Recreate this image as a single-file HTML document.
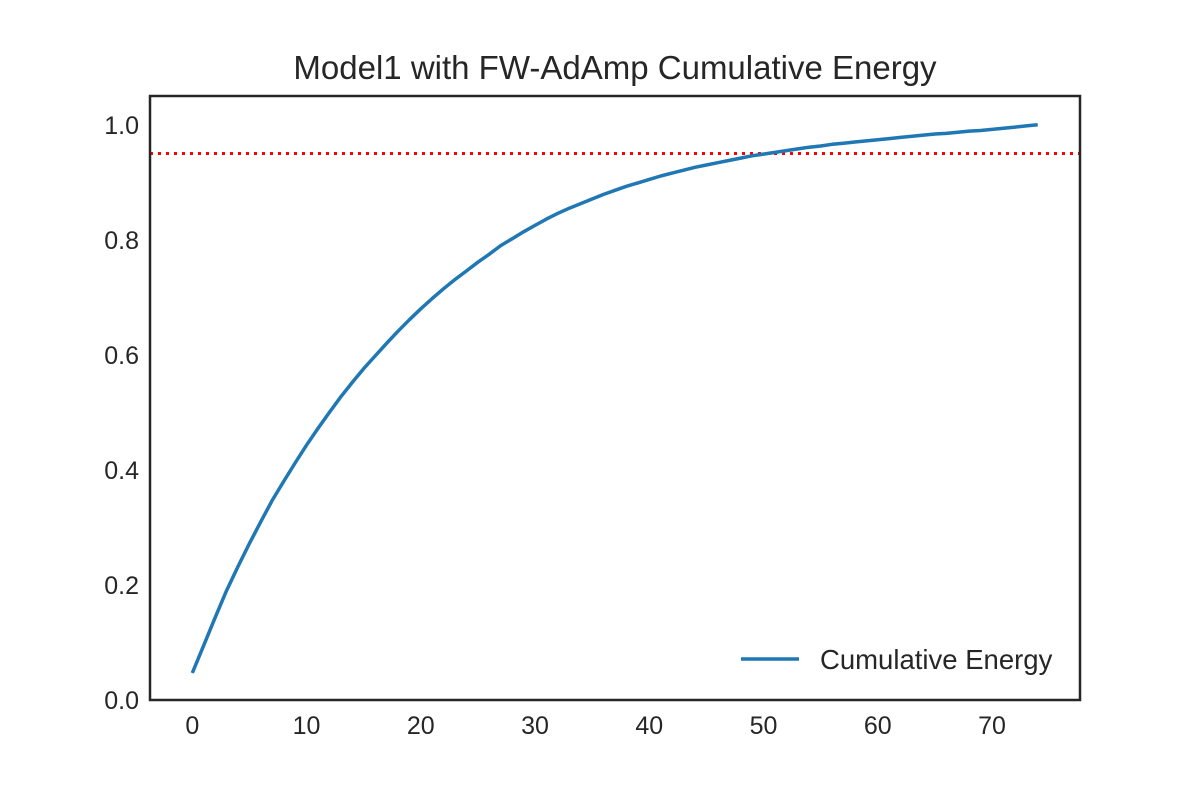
<!DOCTYPE html>
<html><head><meta charset="utf-8"><style>
body{margin:0;background:#fff;}
svg{display:block;font-family:"Liberation Sans","DejaVu Sans",sans-serif;}
</style></head><body>
<svg id="chart" width="1200" height="800">
<rect width="1200" height="800" fill="#fff"/>
<text x="615" y="79" font-size="33" text-anchor="middle" fill="#262626">Model1 with FW-AdAmp Cumulative Energy</text>
<g id="ticks"></g>
<line id="thresh" stroke="red" stroke-width="3" stroke-dasharray="3,5"/>
<path id="curve" fill="none" stroke="#1f77b4" stroke-width="3.5" stroke-linejoin="round"/>
<rect x="150" y="96" width="930" height="604" fill="none" stroke="#262626" stroke-width="2.5"/>
<g>
<line x1="741" y1="659" x2="799" y2="659" stroke="#1f77b4" stroke-width="3.5"/>
<text x="820" y="669" font-size="27.5" fill="#262626">Cumulative Energy</text>
</g>
</svg>
<script>
const values=[.047,.095,.143,.19,.232,.272,.31,.347,.38,.412,.443,.472,.5,.527,.552,.576,.598,.62,.641,.661,.68,.698,.715,.731,.746,.761,.775,.79,.802,.814,.825,.836,.846,.855,.863,.871,.879,.886,.893,.899,.905,.911,.916,.921,.926,.93,.934,.938,.942,.946,.949,.952,.955,.958,.961,.963,.966,.968,.970,.972,.974,.976,.978,.980,.982,.984,.985,.987,.989,.990,.992,.994,.996,.998,1.0];
const threshold=0.95;
const xTicks=[0,10,20,30,40,50,60,70];
const yTicks=[0,0.2,0.4,0.6,0.8,1.0];
const X0=150,X1=1080,Y0=700,Y1=96;
const xmin=-3.7,xmax=77.7,ymin=0,ymax=1.05;
const sx=v=>X0+(v-xmin)/(xmax-xmin)*(X1-X0);
const sy=v=>Y0-(v-ymin)/(ymax-ymin)*(Y0-Y1);
const NS="http://www.w3.org/2000/svg";
document.getElementById('curve').setAttribute('d',values.map((v,i)=>(i?'L':'M')+sx(i).toFixed(1)+','+sy(v).toFixed(1)).join(''));
const t=document.getElementById('thresh');
t.setAttribute('x1',X0);t.setAttribute('x2',X1);t.setAttribute('y1',sy(threshold));t.setAttribute('y2',sy(threshold));
const g=document.getElementById('ticks');
xTicks.forEach(v=>{const e=document.createElementNS(NS,'text');


e.setAttribute('x',sx(v));e.setAttribute('y',734);e.setAttribute('font-size','25');e.setAttribute('text-anchor','middle');e.setAttribute('fill','#262626');e.textContent=v;g.appendChild(e);});
yTicks.forEach(v=>{const e=document.createElementNS(NS,'text');


e.setAttribute('x',139);e.setAttribute('y',sy(v)+9);e.setAttribute('font-size','25');e.setAttribute('text-anchor','end');e.setAttribute('fill','#262626');e.textContent=v.toFixed(1);g.appendChild(e);});
</script>
</body></html>
